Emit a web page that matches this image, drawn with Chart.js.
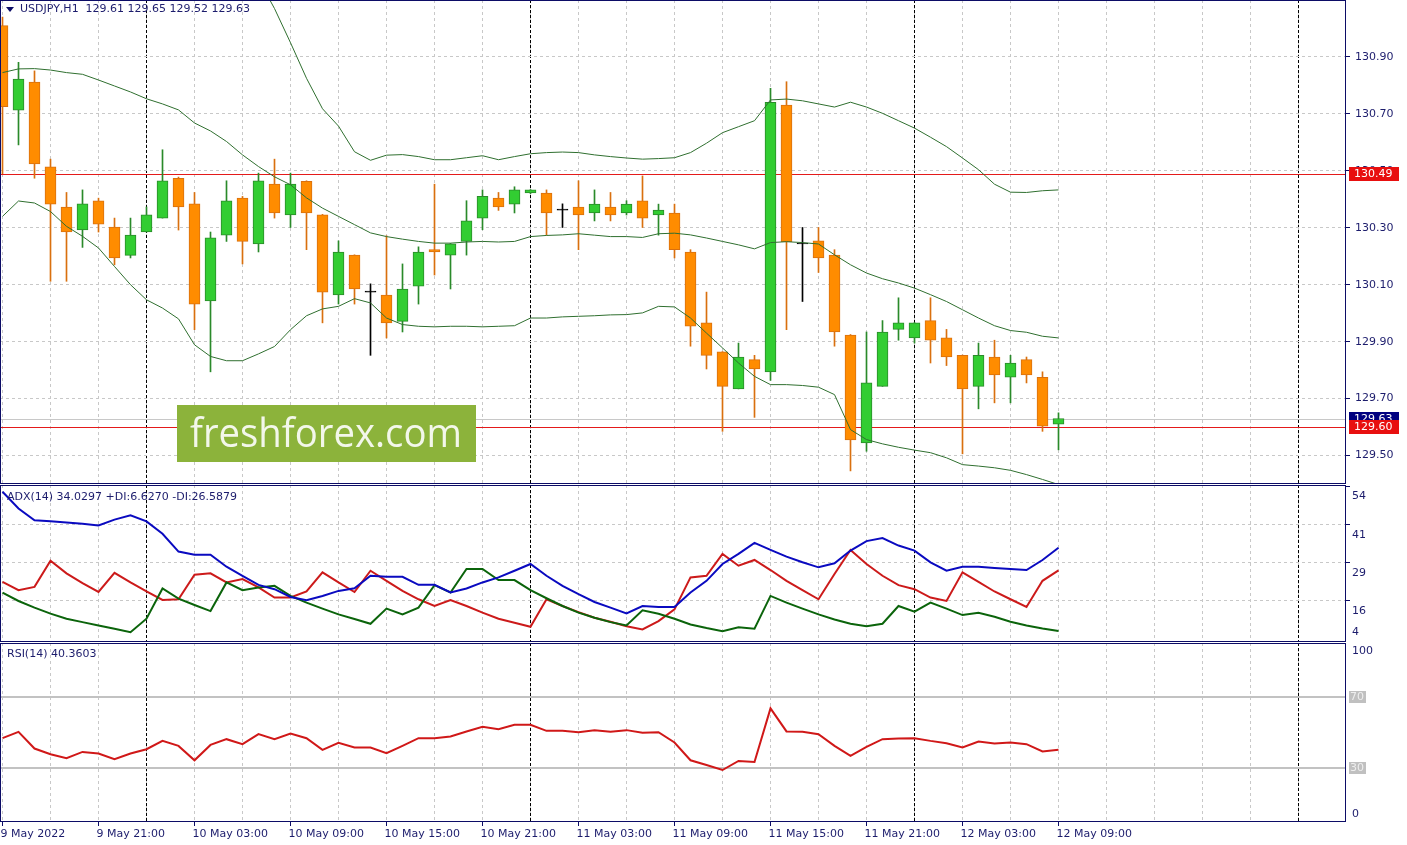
<!DOCTYPE html>
<html>
<head>
<meta charset="utf-8">
<script src="https://cdn.jsdelivr.net/npm/chart.js"></script>
<style>
  body { margin: 0; background: #fff; width: 1407px; height: 845px; overflow: hidden; position: relative; }
  canvas { position: absolute; left: 0; }
</style>
</head>
<body>
<canvas id="main" width="1407" height="484" style="top:0"></canvas>
<canvas id="adx" width="1407" height="157" style="top:485px"></canvas>
<canvas id="rsi" width="1407" height="202" style="top:643px"></canvas>
<script>
// USDJPY H1, 9 May 15:00 .. 12 May 09:00 (one bar per hour)
const opens = [131.01,130.713,130.812,130.514,130.373,130.292,130.395,130.302,130.203,130.285,
  130.334,130.474,130.384,130.043,130.274,130.404,130.243,130.453,130.345,130.463,
  130.345,130.064,130.204,130.074,130.064,129.971,130.095,130.223,130.204,130.252,
  130.334,130.404,130.383,130.422,130.422,130.362,130.373,130.352,130.373,130.352,
  130.395,130.345,130.352,130.215,129.966,129.864,129.734,129.837,129.794,130.731,
  130.243,130.254,130.204,129.923,129.544,129.743,129.943,129.913,129.974,129.913,
  129.852,129.743,129.846,129.775,129.837,129.775,129.61];
const highs = [131.04,130.881,130.851,130.541,130.424,130.433,130.404,130.334,130.334,130.373,
  130.574,130.478,130.424,130.285,130.465,130.410,130.492,130.541,130.492,130.465,
  130.347,130.254,130.205,130.103,130.272,130.173,130.233,130.453,130.245,130.395,
  130.433,130.424,130.444,130.434,130.433,130.384,130.465,130.433,130.424,130.395,
  130.482,130.383,130.383,130.223,130.074,129.865,129.895,129.852,130.790,130.813,
  130.301,130.301,130.223,129.925,129.934,129.974,130.054,129.967,130.054,129.943,
  129.853,129.895,129.905,129.852,129.846,129.794,129.65];
const lows = [130.49,130.591,130.474,130.112,130.112,130.231,130.285,130.170,130.194,130.285,
  130.334,130.292,129.942,129.794,130.252,130.173,130.215,130.334,130.301,130.223,
  129.966,130.032,130.032,129.852,129.913,129.934,130.032,130.134,130.085,130.204,
  130.293,130.361,130.352,130.420,130.274,130.301,130.223,130.324,130.324,130.345,
  130.301,130.274,130.194,129.884,129.804,129.585,129.734,129.634,129.764,129.942,
  130.041,130.143,129.884,129.446,129.515,129.743,129.905,129.895,129.825,129.816,
  129.506,129.664,129.685,129.685,129.755,129.585,129.52];
const closes = [130.725,130.822,130.524,130.383,130.285,130.384,130.313,130.194,130.274,130.345,
  130.465,130.373,130.032,130.265,130.395,130.252,130.465,130.352,130.453,130.352,
  130.074,130.215,130.085,130.074,129.966,130.085,130.215,130.215,130.244,130.324,
  130.410,130.373,130.433,130.433,130.352,130.362,130.345,130.383,130.345,130.383,
  130.334,130.362,130.223,129.954,129.852,129.743,129.846,129.804,130.741,130.251,
  130.243,130.194,129.934,129.555,129.755,129.934,129.966,129.966,129.905,129.846,
  129.734,129.852,129.783,129.825,129.783,129.603,129.63];

// Bollinger Bands (20)
const bbUpper = [131.350,131.322,131.331,131.351,131.385,131.408,131.409,131.432,131.454,131.459,
  131.452,131.448,131.447,131.432,131.373,131.279,131.173,131.07,130.95,130.825,
  130.718,130.657,130.567,130.537,130.555,130.557,130.550,130.539,130.539,130.546,
  130.553,130.539,130.550,130.560,130.564,130.566,130.564,130.556,130.550,130.545,
  130.541,130.543,130.546,130.564,130.597,130.634,130.655,130.676,130.749,130.752,
  130.746,130.735,130.724,130.741,130.724,130.702,130.676,130.650,130.618,130.585,
  130.545,130.504,130.453,130.425,130.424,130.430,130.433];
const bbMiddle = [130.845,130.858,130.859,130.854,130.845,130.839,130.819,130.798,130.777,130.753,
  130.735,130.714,130.668,130.640,130.603,130.556,130.515,130.479,130.451,130.405,
  130.369,130.340,130.311,130.282,130.269,130.260,130.252,130.246,130.246,130.250,
  130.252,130.250,130.252,130.269,130.273,130.275,130.279,130.274,130.269,130.269,
  130.266,130.279,130.281,130.275,130.264,130.252,130.240,130.226,130.248,130.251,
  130.248,130.243,130.205,130.170,130.141,130.121,130.106,130.088,130.065,130.041,
  130.012,129.983,129.956,129.939,129.933,129.919,129.913];
const bbLower = [130.340,130.394,130.387,130.357,130.305,130.270,130.229,130.164,130.100,130.047,
  130.018,129.980,129.889,129.848,129.833,129.833,129.857,129.883,129.942,129.991,
  130.015,130.024,130.051,130.036,129.983,129.960,129.954,129.952,129.954,129.954,
  129.952,129.954,129.956,129.983,129.983,129.987,129.989,129.991,129.994,129.995,
  130.001,130.024,130.022,129.983,129.930,129.878,129.825,129.778,129.749,129.749,
  129.746,129.740,129.714,129.591,129.556,129.541,129.529,129.519,129.510,129.492,
  129.468,129.463,129.457,129.448,129.433,129.416,129.398];

// ADX(14)
const adxLine = [52.44,46.91,43.03,42.70,42.36,41.93,41.37,43.26,44.68,42.70,
  38.62,32.75,31.75,31.75,27.77,24.79,21.80,20.38,17.82,16.73,
  18.16,19.81,20.65,24.79,24.46,24.46,21.80,21.80,19.28,20.61,
  22.60,24.26,26.45,28.67,24.79,21.47,18.72,16.17,14.31,12.42,
  14.84,14.51,14.51,19.28,23.13,28.67,31.98,35.63,33.31,31.09,
  29.23,27.57,28.90,33.08,36.20,37.19,34.74,33.08,29.23,26.45,
  27.77,27.77,27.34,27.01,26.68,29.99,34.03];
const plusDI = [19.28,16.50,14.31,12.32,10.66,9.54,8.44,7.35,6.22,10.66,
  20.61,17.29,15.17,13.18,22.60,20.05,20.94,21.47,18.16,15.97,
  13.98,12.09,10.56,9.00,13.98,12.09,14.31,21.70,19.28,27.01,
  27.01,23.36,23.36,20.05,17.39,14.84,12.65,10.99,9.54,8.44,
  13.41,12.32,10.66,8.77,7.58,6.55,7.88,7.35,18.16,15.97,
  13.98,12.09,10.43,9.00,8.21,9.00,14.84,12.98,15.97,13.98,
  11.86,12.65,11.33,9.67,8.44,7.45,6.63];
const minusDI = [22.80,20.05,21.14,29.76,25.58,22.37,19.48,25.78,22.60,19.62,
  16.83,17.06,25.12,25.58,22.60,23.69,20.94,17.63,17.63,19.62,
  25.92,22.60,19.45,26.45,23.13,19.81,17.06,14.84,16.83,14.84,
  12.65,10.66,9.34,8.01,17.06,14.84,12.85,10.99,9.67,8.21,
  7.11,9.87,13.75,24.26,24.79,31.98,28.10,29.99,26.68,23.13,
  20.05,17.06,25.35,33.31,28.67,24.79,21.70,20.38,17.63,16.50,
  25.92,22.80,19.62,17.06,14.51,23.13,26.59];

// RSI(14)
const rsiLine = [46.83,50.36,41.05,37.85,35.61,39.14,38.25,35.05,38.25,40.66,
  45.32,42.51,34.49,43.07,46.27,43.46,49.07,46.27,49.47,46.83,
  40.27,44.19,41.61,41.61,38.42,42.51,46.83,46.83,47.78,50.59,
  53.17,51.88,54.29,54.29,50.93,50.93,50.20,51.32,50.36,51.32,
  49.80,50.20,44.42,34.49,31.80,29.05,34.10,33.53,63.49,50.59,
  50.36,49.07,42.51,36.90,41.95,46.27,46.66,46.83,45.32,44.03,
  41.61,44.98,43.86,44.42,43.46,39.37,40.36];

// time labels, one every 6 bars
const xTickLabels = ['9 May 2022','9 May 21:00','10 May 03:00','10 May 09:00','10 May 15:00','10 May 21:00',
  '11 May 03:00','11 May 09:00','11 May 15:00','11 May 21:00','12 May 03:00','12 May 09:00'];
const dayStarts = [9, 33, 57, 81];
const priceTicks = [129.5, 129.7, 129.9, 130.1, 130.3, 130.5, 130.7, 130.9];
const adxTicks = [54.3, 41.5, 29, 16.5, 9.4];
const adxTickLabels = ['54', '41', '29', '16', '4'];
const rsiTicks = [95.6, 4.3];
const rsiTickLabels = ['100', '0'];
const rsiLevels = [70, 30];
const redLevels = [130.49, 129.60];
const bidPrice = 129.63;

const X_MIN = -0.15625, X_MAX = 83.96875;
const NAVY = '#0c0c66';
const TXT = '#1c1c6c';
const GRID = '#c8c8c8';
const FONT = { family: 'DejaVu Sans', size: 11 };
Chart.defaults.font.family = 'DejaVu Sans';

const idx = opens.map((_, i) => i);
const pts = arr => idx.map(i => ({ x: i, y: arr[i] }));
const candleFill = idx.map(i => closes[i] === opens[i] ? '#000000' : closes[i] > opens[i] ? '#32cd32' : '#ff8c00');
const candleEdge = idx.map(i => closes[i] === opens[i] ? '#000000' : closes[i] > opens[i] ? '#2a8a2a' : '#d9700f');

// keep the plot area flush with the canvas edges
const noPad = s => { s.paddingTop = 0; s.paddingBottom = 0; s.paddingLeft = 0; s.paddingRight = 0; };

function plainX(withLabels) {
  const ax = {
    type: 'linear', min: X_MIN, max: X_MAX, offset: false,
    afterBuildTicks: s => { s.ticks = []; for (let v = 0; v <= X_MAX; v += 3) s.ticks.push({ value: v }); },
    grid: { color: GRID, offset: false, drawTicks: false },
    border: { display: false, dash: [3, 3] },
    ticks: { display: false }
  };
  if (withLabels) {
    ax.grid.drawTicks = true;
    ax.grid.tickLength = 4;
    ax.grid.tickColor = c => (c.tick && c.tick.value % 6 === 0 && c.tick.value <= 66) ? NAVY : 'rgba(0,0,0,0)';
    ax.ticks = {
      display: true, autoSkip: false, maxRotation: 0, align: 'start', labelOffset: -2, padding: 2,
      color: TXT, font: FONT,
      callback: v => (v % 6 === 0 && xTickLabels[v / 6]) ? xTickLabels[v / 6] : ''
    };
    ax.afterFit = s => { s.height = 23; noPad(s); };
  } else {
    ax.afterFit = s => { s.height = 0; noPad(s); };
  }
  return ax;
}

function sepX() {
  return {
    axis: 'x', type: 'linear', position: 'top', min: X_MIN, max: X_MAX, offset: false,
    afterBuildTicks: s => { s.ticks = dayStarts.map(v => ({ value: v })); },
    afterFit: s => { s.height = 0; noPad(s); },
    grid: { color: '#000000', offset: false, drawTicks: false },
    border: { display: false, dash: [3, 2] },
    ticks: { display: false }
  };
}

function rightY(extra) {
  return Object.assign({
    type: 'linear', position: 'right',
    afterFit: s => { s.width = 61; noPad(s); }
  }, extra);
}

function frame(chart) {
  const { ctx, chartArea: a } = chart;
  ctx.save();
  ctx.strokeStyle = NAVY;
  ctx.lineWidth = 1;
  ctx.strokeRect(a.left + 0.5, a.top + 0.5, a.right - a.left - 1, a.bottom - a.top - 1);
  ctx.restore();
}

function hLine(chart, value, color, width) {
  const { ctx, chartArea: a, scales: { y } } = chart;
  const py = Math.round(y.getPixelForValue(value)) + (width % 2 ? 0.5 : 0);
  ctx.save();
  ctx.strokeStyle = color;
  ctx.lineWidth = width;
  ctx.beginPath();
  ctx.moveTo(a.left, py);
  ctx.lineTo(a.right, py);
  ctx.stroke();
  ctx.restore();
}

function axisBox(chart, value, text, bg, fg, w, h, tx) {
  const { ctx, chartArea: a, scales: { y } } = chart;
  const py = Math.round(y.getPixelForValue(value));
  ctx.save();
  ctx.fillStyle = bg;
  ctx.fillRect(a.right + 3, py - Math.floor(h / 2), w, h);
  ctx.fillStyle = fg;
  ctx.font = '11px "DejaVu Sans"';
  ctx.textBaseline = 'middle';
  ctx.fillText(text, a.right + tx, py + 0.5);
  ctx.restore();
}

function label(ctx, text, x, y) {
  ctx.save();
  ctx.fillStyle = TXT;
  ctx.font = '11px "DejaVu Sans"';
  ctx.textBaseline = 'middle';
  ctx.fillText(text, x, y);
  ctx.restore();
}

const baseOpts = {
  responsive: false, animation: false, devicePixelRatio: 1,
  layout: { padding: 0 },
  plugins: { legend: { display: false }, tooltip: { enabled: false } }
};

// ---------- price panel ----------
const mainDecor = {
  id: 'mainDecor',
  beforeDatasetsDraw(chart) {
    hLine(chart, bidPrice, '#c8c8c8', 1);
    redLevels.forEach(v => hLine(chart, v, '#e41a1a', 1));
  },
  afterDatasetsDraw(chart) {
    const ctx = chart.ctx;
    ctx.save();
    ctx.fillStyle = '#8cb33b';
    ctx.fillRect(177, 405, 299, 57);
    ctx.font = '41px "Open Sans"';
    const w = ctx.measureText('freshforex.com').width;
    ctx.translate(190, 447);
    ctx.scale(272 / w, 1);
    ctx.fillStyle = '#f3f7ea';
    ctx.fillText('freshforex.com', 0, 0);
    ctx.restore();

    ctx.save();
    ctx.fillStyle = NAVY;
    ctx.beginPath();
    ctx.moveTo(6, 7); ctx.lineTo(14, 7); ctx.lineTo(10, 12); ctx.closePath();
    ctx.fill();
    ctx.restore();
    label(ctx, 'USDJPY,H1  129.61 129.65 129.52 129.63', 20, 9.5);
  },
  afterDraw(chart) {
    frame(chart);
    axisBox(chart, redLevels[0], '130.49', '#e80f0f', '#ffffff', 50, 14, 8);
    axisBox(chart, bidPrice, '129.63', '#000080', '#ffffff', 50, 14, 8);
    axisBox(chart, redLevels[1], '129.60', '#e80f0f', '#ffffff', 50, 14, 8);
  }
};

new Chart(document.getElementById('main'), {
  type: 'bar',
  data: {
    datasets: [
      { type: 'line', data: pts(bbUpper), borderColor: '#2f6f2f', borderWidth: 1, pointRadius: 0, order: 0 },
      { type: 'line', data: pts(bbMiddle), borderColor: '#2f6f2f', borderWidth: 1, pointRadius: 0, order: 0 },
      { type: 'line', data: pts(bbLower), borderColor: '#2f6f2f', borderWidth: 1, pointRadius: 0, order: 0 },
      {
        type: 'bar', data: idx.map(i => ({ x: i, y: [opens[i], closes[i]] })),
        backgroundColor: candleFill, borderColor: candleEdge, borderWidth: 1, borderSkipped: false,
        barThickness: 11, grouped: false, minBarLength: 1, order: 1
      },
      {
        type: 'bar', data: idx.map(i => ({ x: i, y: [lows[i], highs[i]] })),
        backgroundColor: candleEdge, borderWidth: 0, barThickness: 1, grouped: false, order: 2
      }
    ]
  },
  options: {
    ...baseOpts,
    scales: {
      x: plainX(false),
      sep: sepX(),
      y: rightY({
        min: 129.4, max: 131.1,
        afterBuildTicks: s => { s.ticks = priceTicks.map(v => ({ value: v })); },
        ticks: { callback: v => v.toFixed(2), color: TXT, font: FONT, padding: 5 },
        grid: { color: GRID, tickColor: NAVY, tickLength: 4 },
        border: { display: false, dash: [3, 3] }
      })
    }
  },
  plugins: [mainDecor]
});

// ---------- ADX panel ----------
new Chart(document.getElementById('adx'), {
  type: 'line',
  data: {
    datasets: [
      { data: pts(adxLine), borderColor: '#0a0ac0', borderWidth: 2, pointRadius: 0 },
      { data: pts(plusDI), borderColor: '#0b640b', borderWidth: 2, pointRadius: 0 },
      { data: pts(minusDI), borderColor: '#cc1a1a', borderWidth: 2, pointRadius: 0 }
    ]
  },
  options: {
    ...baseOpts,
    scales: {
      x: plainX(false),
      sep: sepX(),
      y: rightY({
        min: 3.0, max: 54.66,
        afterBuildTicks: s => { s.ticks = adxTicks.map(v => ({ value: v })); },
        ticks: { callback: (v, i) => adxTickLabels[i], color: TXT, font: FONT, padding: 2, labelOffset: 10 },
        grid: {
          color: c => (c.index >= 1 && c.index <= 3) ? GRID : 'rgba(0,0,0,0)',
          tickColor: c => c.index <= 3 ? NAVY : 'rgba(0,0,0,0)', tickLength: 4
        },
        border: { display: false, dash: [3, 3] }
      })
    }
  },
  plugins: [{
    id: 'adxDecor',
    afterDraw(chart) {
      frame(chart);
      label(chart.ctx, 'ADX(14) 34.0297 +DI:6.6270 -DI:26.5879', 7, 12);
    }
  }]
});

// ---------- RSI panel ----------
new Chart(document.getElementById('rsi'), {
  type: 'line',
  data: {
    datasets: [
      { data: pts(rsiLine), borderColor: '#d01818', borderWidth: 2, pointRadius: 0 }
    ]
  },
  options: {
    ...baseOpts,
    scales: {
      x: plainX(true),
      sep: sepX(),
      y: rightY({
        min: 0, max: 100,
        afterBuildTicks: s => { s.ticks = rsiTicks.map(v => ({ value: v })); },
        ticks: { callback: (v, i) => rsiTickLabels[i], color: TXT, font: FONT, padding: 2 },
        grid: { color: 'rgba(0,0,0,0)', tickColor: 'rgba(0,0,0,0)', tickLength: 4 },
        border: { display: false }
      })
    }
  },
  plugins: [{
    id: 'rsiDecor',
    beforeDatasetsDraw(chart) {
      rsiLevels.forEach(v => hLine(chart, v, '#c2c2c2', 2));
    },
    afterDraw(chart) {
      frame(chart);
      rsiLevels.forEach(v => axisBox(chart, v, String(v), '#c0c0c0', '#eeeeee', 17, 12, 4));
      label(chart.ctx, 'RSI(14) 40.3603', 7, 11);
    }
  }]
});
</script>
</body>
</html>
